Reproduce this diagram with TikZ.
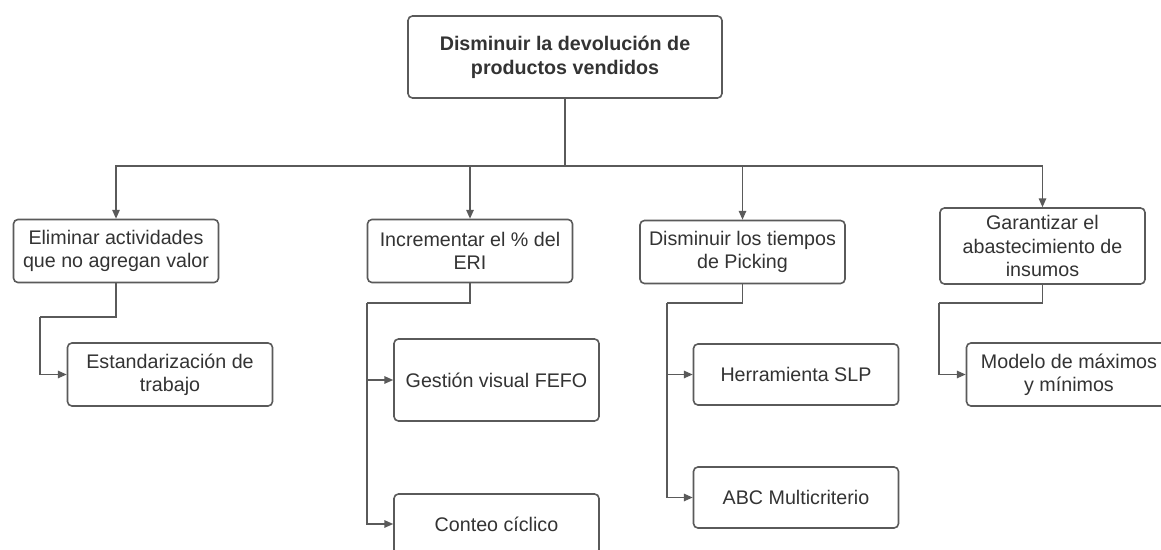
\documentclass[tikz,border=0pt]{standalone}
\usepackage{fontspec}
\setmainfont{Liberation Sans}
\usetikzlibrary{arrows.meta}

\definecolor{linea}{HTML}{5A5A5A}
\definecolor{texto}{HTML}{333333}

\tikzset{
  caja/.style={draw=linea, line width=0.9pt, rounded corners=2.5pt, fill=white,
    text=texto, align=center, inner sep=0pt, minimum width=4.1cm,
    minimum height=1.26cm, font=\fontsize{11.2}{13.2}\selectfont},
  flecha/.style={draw=linea, line width=0.8pt, -{Triangle[length=5pt,width=4.2pt]}},
}

\begin{document}
\begin{tikzpicture}[x=0.02cm, y=-0.02cm]
\clip (0,0) rectangle (1161,550);
\fill[white] (0,0) rectangle (1161,550);

% Objetivo general
\node[caja, minimum width=6.28cm, minimum height=1.64cm,
      font=\fontsize{11.2}{13.6}\selectfont\bfseries] (raiz) at (565,57)
      {Disminuir la devolución de\\productos vendidos};

% Objetivos específicos
\node[caja] (e1) at (116,251) {Eliminar actividades\\que no agregan valor};
\node[caja] (e2) at (470,251) {Incrementar el \% del\\ERI};
\node[caja] (e3) at (742.5,252) {Disminuir los tiempos\\de Picking};
\node[caja, minimum height=1.52cm] (e4) at (1042.5,246)
      {Garantizar el\\abastecimiento de\\insumos};

% Acciones
\node[caja] (s1) at (170,374.5) {Estandarización de\\trabajo};
\node[caja, minimum height=1.64cm] (s2) at (496.5,380) {Gestión visual FEFO};
\node[caja, minimum height=1.2cm] (s3) at (496.5,524) {Conteo cíclico};
\node[caja, minimum height=1.22cm] (s4) at (796,374.5) {Herramienta SLP};
\node[caja, minimum height=1.22cm] (s5) at (796,497.5) {ABC Multicriterio};
\node[caja] (s6) at (1069,374.5) {Modelo de máximos\\y mínimos};

% Conectores
\coordinate (bus) at (565,166);
\draw[linea, line width=0.8pt] (raiz.south) -- (bus);
\foreach \n in {e1,e2,e3,e4}
  \draw[flecha] (bus) -| (\n.north);

\coordinate (c1) at (40,317);
\coordinate (c2) at (367,303);
\coordinate (c3) at (667,303);
\coordinate (c4) at (939,303);
\draw[linea, line width=0.8pt] (e1.south) |- (c1);
\draw[linea, line width=0.8pt] (e2.south) |- (c2);
\draw[linea, line width=0.8pt] (e3.south) |- (c3);
\draw[linea, line width=0.8pt] (e4.south) |- (c4);
\foreach \c/\s in {c1/s1, c2/s2, c2/s3, c3/s4, c3/s5, c4/s6}
  \draw[flecha] (\c) |- (\s.west);
\end{tikzpicture}
\end{document}
